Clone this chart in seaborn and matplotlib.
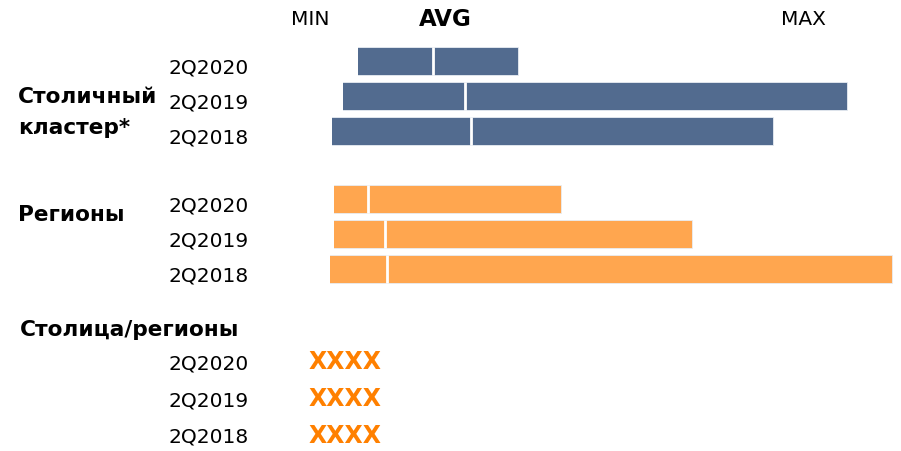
import matplotlib
matplotlib.use('Agg')
import matplotlib.pyplot as plt
import matplotlib.transforms as mtransforms
import seaborn as sns
import pandas as pd

# periods and min / avg / max values per group
periods = ['2Q2020', '2Q2019', '2Q2018']
capital_min = [11.6, 8.6, 6.4]
capital_avg = [26.5, 33.0, 34.2]
capital_max = [43.6, 109.4, 94.6]
regions_min = [6.8, 6.8, 6.0]
regions_avg = [13.6, 16.9, 17.3]
regions_max = [52.2, 78.4, 118.4]
ratio_values = ['XXXX', 'XXXX', 'XXXX']

blue = '#526B8F'
orange = '#FFA64F'
dark_orange = '#FF8000'

# row slots (layout)
capital_rows = [0, 1, 2]
regions_rows = [3.94, 4.94, 5.94]
ratio_rows = [8.62, 9.67, 10.72]

df = pd.DataFrame({
    'row': capital_rows + regions_rows,
    'min': capital_min + regions_min,
    'avg': capital_avg + regions_avg,
    'max': capital_max + regions_max,
    'group': ['capital'] * 3 + ['regions'] * 3,
})

sns.set_theme(style='white')
plt.rcParams['font.family'] = ['DejaVu Sans']
plt.rcParams['text.color'] = 'black'

fig = plt.figure(figsize=(9.01, 4.52), dpi=100)
ax = fig.add_axes([0, 0, 1, 1])

# full bar up to max
sns.barplot(data=df, x='max', y='row', hue='group', orient='h', native_scale=True,
            palette={'capital': blue, 'regions': orange}, dodge=False, width=0.78,
            saturation=1, errorbar=None, legend=False, edgecolor='#e8edf3',
            linewidth=0.6, ax=ax)
# mask the part below min with background
sns.barplot(data=df, x='min', y='row', orient='h', native_scale=True, color='white',
            width=0.9, errorbar=None, linewidth=0, saturation=1, ax=ax)
# white divider at avg
ax.vlines(df['avg'], df['row'] - 0.39, df['row'] + 0.39, color='white', lw=2.0)

ax.set_xlim(-60, 120.2)
ax.set_ylim(11.14, -1.77)
ax.set_axis_off()

tr = mtransforms.blended_transform_factory(ax.transAxes, ax.transData)
fs = 14.5
fb = 15.6

# column headers
ax.text(310 / 901, -1.2, 'MIN', transform=tr, ha='center', va='center', fontsize=fs)
ax.text(445 / 901, -1.2, 'AVG', transform=tr, ha='center', va='center', fontsize=16.5,
        fontweight='bold')
ax.text(803 / 901, -1.2, 'MAX', transform=tr, ha='center', va='center', fontsize=fs)

# group headers
ax.text(18 / 901, 1.0, 'Столичный', transform=tr, ha='left', va='center', fontsize=fb,
        fontweight='bold')
ax.text(18 / 901, 1.89, 'кластер*', transform=tr, ha='left', va='center', fontsize=fb,
        fontweight='bold')
ax.text(18 / 901, 4.37, 'Регионы', transform=tr, ha='left', va='center', fontsize=fb,
        fontweight='bold')
ax.text(20 / 901, 7.66, 'Столица/регионы', transform=tr, ha='left', va='center',
        fontsize=fb, fontweight='bold')

# period labels
for rows in [capital_rows, regions_rows, ratio_rows]:
    for r, p in zip(rows, periods):
        off = 0.0 if rows is ratio_rows else 0.17
        ax.text(168 / 901, r + off, p, transform=tr, ha='left', va='center', fontsize=fs)

for r, v in zip(ratio_rows, ratio_values):
    ax.text(345 / 901, r - 0.05, v, transform=tr, ha='center', va='center', fontsize=17,
            fontweight='bold', color=dark_orange)

fig.savefig('out.png', dpi=100, facecolor='white')
